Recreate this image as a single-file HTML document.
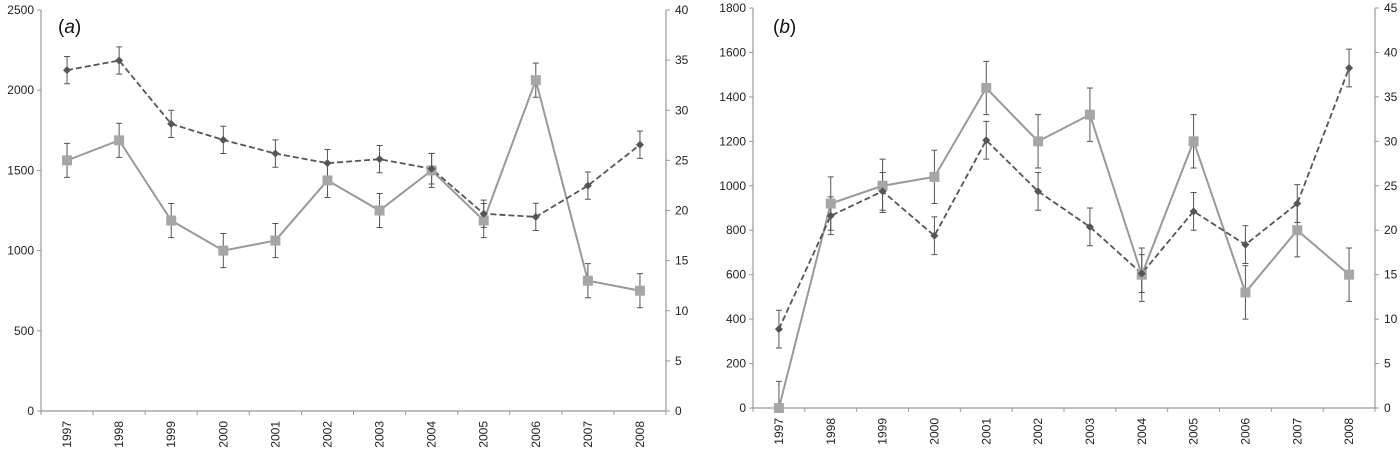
<!DOCTYPE html>
<html><head><meta charset="utf-8"><style>
body{margin:0;background:#fff;width:1400px;height:451px;overflow:hidden}
svg{font-family:"Liberation Sans",Arial,sans-serif}
</style></head><body>
<svg id="chart" width="1400" height="451"></svg>
<script>
const years=['1997','1998','1999','2000','2001','2002','2003','2004','2005','2006','2007','2008'];
const aDashed=[2125,2185,1790,1690,1605,1545,1570,1510,1230,1210,1405,1660];
const aDashedErr=[85,85,85,85,85,85,85,95,85,85,85,85];
const aSolid=[25,27,19,16,17,23,20,24,19,33,13,12];
const aSolidErr=[1.7,1.7,1.7,1.7,1.7,1.7,1.7,1.7,1.7,1.7,1.7,1.7];
const aLeftTicks=[0,500,1000,1500,2000,2500];
const aRightTicks=[0,5,10,15,20,25,30,35,40];
const bDashed=[355,865,975,775,1205,975,815,605,885,735,920,1530];
const bDashedErr=[85,85,85,85,85,85,85,85,85,85,85,85];
const bSolid=[0,23,25,26,36,30,33,15,30,13,20,15];
const bSolidErr=[3,3,3,3,3,3,3,3,3,3,3,3];
const bLeftTicks=[0,200,400,600,800,1000,1200,1400,1600,1800];
const bRightTicks=[0,5,10,15,20,25,30,35,40,45];

const NS='http://www.w3.org/2000/svg';
const svg=document.getElementById('chart');
function mk(tag,attrs,parent){const e=document.createElementNS(NS,tag);for(const k in attrs)e.setAttribute(k,attrs[k]);(parent||svg).appendChild(e);return e;}

function panel(cfg){
  const g=mk('g',{});
  
  
  const {x0,x1,y0,y1,lmax,rmax}=cfg;
  const step=(x1-x0)/years.length;
  const xs=i=>x0+step*(i+0.5);
  const yl=v=>y0-(v/lmax)*(y0-y1);
  const yr=v=>y0-(v/rmax)*(y0-y1);
  const ax='#999';
  mk('line',{x1:x0,y1:y0,x2:x0,y2:y1,stroke:ax,'stroke-width':1.2},g);
  mk('line',{x1:x1,y1:y0,x2:x1,y2:y1,stroke:ax,'stroke-width':1.2},g);
  mk('line',{x1:x0,y1:y0,x2:x1,y2:y0,stroke:ax,'stroke-width':1.2},g);
  cfg.lt.forEach(v=>{const y=yl(v);mk('line',{x1:x0-4,y1:y,x2:x0,y2:y,stroke:ax},g);
    const t=mk('text',{x:x0-7,y:y+4,'text-anchor':'end','font-size':12,fill:'#222'},g);t.textContent=v;
    
    });
  cfg.rt.forEach(v=>{const y=yr(v);mk('line',{x1:x1,y1:y,x2:x1+4,y2:y,stroke:ax},g);
    const t=mk('text',{x:x1+9,y:y+4,'text-anchor':'start','font-size':12,fill:'#222'},g);t.textContent=v;
    
    });
  for(let i=0;i<=years.length;i++){const x=x0+step*i;mk('line',{x1:x,y1:y0,x2:x,y2:y0+4,stroke:ax},g);}
  years.forEach((yv,i)=>{const x=xs(i);
    const t=mk('text',{x:0,y:0,transform:`translate(${x+4},${y0+10}) rotate(-90)`,'text-anchor':'end','font-size':12,fill:'#222'},g);t.textContent=yv;
    
    });
  const lab=mk('text',{x:cfg.lx,y:33,'font-size':19,fill:'#111'},g);
  lab.innerHTML='(<tspan font-style="italic">'+cfg.letter+'</tspan>)';
  
  
  // error bars
  function err(vals,errs,sc,col){vals.forEach((v,i)=>{const x=xs(i),a=sc(v+errs[i]),b=sc(Math.max(0,v-errs[i]));
    const e=mk('path',{d:`M${x},${a}V${b}M${x-3},${a}H${x+3}M${x-3},${b}H${x+3}`,stroke:'#555','stroke-width':1,fill:'none'},g);
    
    });}
  err(cfg.dashed,cfg.dErr,yl);
  err(cfg.solid,cfg.sErr,yr);
  const sp=mk('polyline',{points:cfg.solid.map((v,i)=>xs(i)+','+yr(v)).join(' '),fill:'none',stroke:'#999','stroke-width':2},g);
  
  
  const dp=mk('polyline',{points:cfg.dashed.map((v,i)=>xs(i)+','+yl(v)).join(' '),fill:'none',stroke:'#555','stroke-width':1.8,'stroke-dasharray':'6,3'},g);
  
  
  cfg.solid.forEach((v,i)=>{const r=mk('rect',{x:xs(i)-5,y:yr(v)-5,width:10,height:10,fill:'#a6a6a6'},g);
    
    });
  cfg.dashed.forEach((v,i)=>{const c=mk('path',{d:`M${xs(i)},${yl(v)-4}l4,4l-4,4l-4,-4z`,fill:'#555'},g);
    
    });
}
panel({name:'panel-a',letter:'a',x0:41,x1:666,y0:411,y1:10,lmax:2500,rmax:40,lt:aLeftTicks,rt:aRightTicks,dashed:aDashed,dErr:aDashedErr,solid:aSolid,sErr:aSolidErr,lx:58});
panel({name:'panel-b',letter:'b',x0:753,x1:1375,y0:408,y1:8,lmax:1800,rmax:45,lt:bLeftTicks,rt:bRightTicks,dashed:bDashed,dErr:bDashedErr,solid:bSolid,sErr:bSolidErr,lx:773});
</script>
</body></html>
